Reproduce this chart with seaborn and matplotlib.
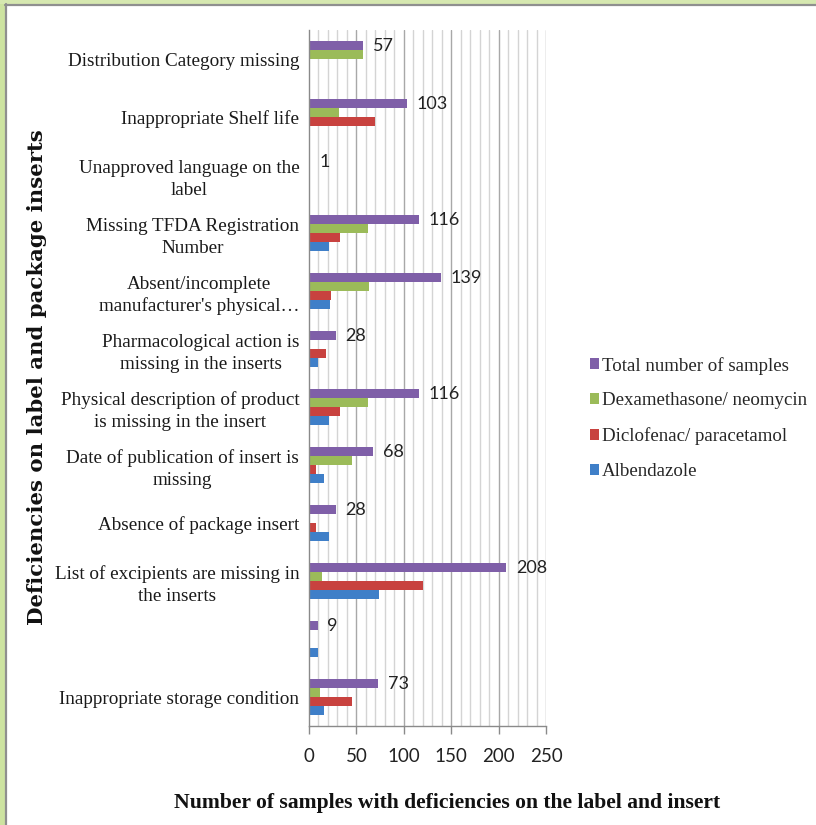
import matplotlib
matplotlib.use("Agg")
import matplotlib.pyplot as plt
from matplotlib.patches import Rectangle, Patch
from matplotlib.lines import Line2D
import numpy as np
import pandas as pd
import seaborn as sns

# Deficiency categories (top to bottom)
categories = [
    "Distribution Category missing",
    "Inappropriate Shelf life",
    "Unapproved language on the\nlabel",
    "Missing TFDA Registration\nNumber",
    "Absent/incomplete\nmanufacturer's physical…",
    "Pharmacological action is\nmissing in the inserts",
    "Physical description of product\nis missing in the insert",
    "Date of publication of insert is\nmissing",
    "Absence of package insert",
    "List of excipients are missing in\nthe inserts",
    "",
    "Inappropriate storage condition",
]

total = [57, 103, 1, 116, 139, 28, 116, 68, 28, 208, 9, 73]
dexamethasone = [57, 32, 0, 62, 63, 0, 62, 45, 0, 14, 0, 12]
diclofenac = [0, 70, 0, 33, 23, 18, 33, 7, 7, 120, 0, 45]
albendazole = [0, 1, 1, 21, 22, 10, 21, 16, 21, 74, 9, 16]

series_names = ["Total number of samples", "Dexamethasone/ neomycin",
                "Diclofenac/ paracetamol", "Albendazole"]
series_colors = ["#7f5fa8", "#9bbb59", "#c8423f", "#3f7fc8"]

x_ticks = [0, 50, 100, 150, 200, 250]

rows = []
for name, vals in zip(series_names, [total, dexamethasone, diclofenac, albendazole]):
    for cat, v in zip(categories, vals):
        rows.append({"Deficiency": cat, "Series": name, "Count": v})
df = pd.DataFrame(rows)

sns.set_style("white")
W, H = 816, 825
fig = plt.figure(figsize=(W / 100, H / 100), dpi=100)
fig.patch.set_facecolor("white")

ax_l, ax_r, ax_t, ax_b = 309, 546, 30, 726
ax = fig.add_axes([ax_l / W, (H - ax_b) / H, (ax_r - ax_l) / W, (ax_b - ax_t) / H])

sns.barplot(data=df, x="Count", y="Deficiency", hue="Series",
            order=categories, hue_order=series_names,
            palette=series_colors, width=0.62, orient="h",
            saturation=1, legend=False, ax=ax, zorder=3, linewidth=0)

# value labels on the total bars
ax.bar_label(ax.containers[0], labels=[str(v) for v in total], padding=7,
             fontsize=13, family="Lato", color="#222222")

ax.set_xlim(0, 250)
ax.set_ylim(len(categories) - 0.5, -0.5)
ax.set_xticks(x_ticks)
ax.set_xticklabels([str(t) for t in x_ticks], fontsize=13.5,
                   family="Lato", color="#222222")

# grid: light lines every 10, darker every 50
for v in range(10, 251, 10):
    ax.axvline(v, color="#a8a8a8" if v % 50 == 0 else "#d4d4d4",
               lw=1.0, zorder=1)

ax.tick_params(axis="x", length=6, width=1, color="#8a8a8a", pad=10, direction="out",
               bottom=True)
ax.tick_params(axis="y", length=0, pad=7)
for lbl in ax.get_yticklabels():
    lbl.set_family("Liberation Serif")
    lbl.set_fontsize(13.8)
    lbl.set_multialignment("center")
    lbl.set_linespacing(1.35)
    lbl.set_color("#1a1a1a")

for s in ["top", "right"]:
    ax.spines[s].set_visible(False)
for s in ["left", "bottom"]:
    ax.spines[s].set_color("#8a8a8a")
    ax.spines[s].set_linewidth(1.0)
    ax.spines[s].set_zorder(5)

ax.set_xlabel("")
ax.set_ylabel("")

fig.text(447 / W, 1 - 803 / H,
         "Number of samples with deficiencies on the label and insert",
         ha="center", va="center", fontsize=15.6, fontweight="bold",
         family="Liberation Serif", color="#111111")
fig.text(37 / W, 1 - 377 / H, "Deficiencies on label and package inserts",
         ha="center", va="center", rotation=90, fontsize=15.3,
         fontweight="bold", family="DejaVu Serif", color="#111111")

# legend
handles = [Patch(facecolor=c, edgecolor="none") for c in series_colors]
leg = fig.legend(handles, series_names, loc="upper left",
                 bbox_to_anchor=(584 / W, 1 - 351 / H), frameon=False,
                 handlelength=0.5, handleheight=0.5, handletextpad=0.15,
                 labelspacing=0.95, borderaxespad=0, borderpad=0.3,
                 prop={"family": "Liberation Serif", "size": 13.6})

# page frame: green band with grey edge along left and top
fig.add_artist(Rectangle((0, 0), 5 / W, 1, transform=fig.transFigure,
                         facecolor="#cde3a0", edgecolor="none", zorder=0))
fig.add_artist(Rectangle((0, 1 - 4 / H), 1, 4 / H, transform=fig.transFigure,
                         facecolor="#d6e8b0", edgecolor="none", zorder=0))
fig.add_artist(Line2D([5.5 / W, 5.5 / W], [0, 1 - 4 / H], transform=fig.transFigure,
                      color="#8f8f8f", lw=1.6))
fig.add_artist(Line2D([5 / W, 1], [1 - 5 / H, 1 - 5 / H], transform=fig.transFigure,
                      color="#8f8f8f", lw=1.6))

fig.savefig("out.png", dpi=100)
